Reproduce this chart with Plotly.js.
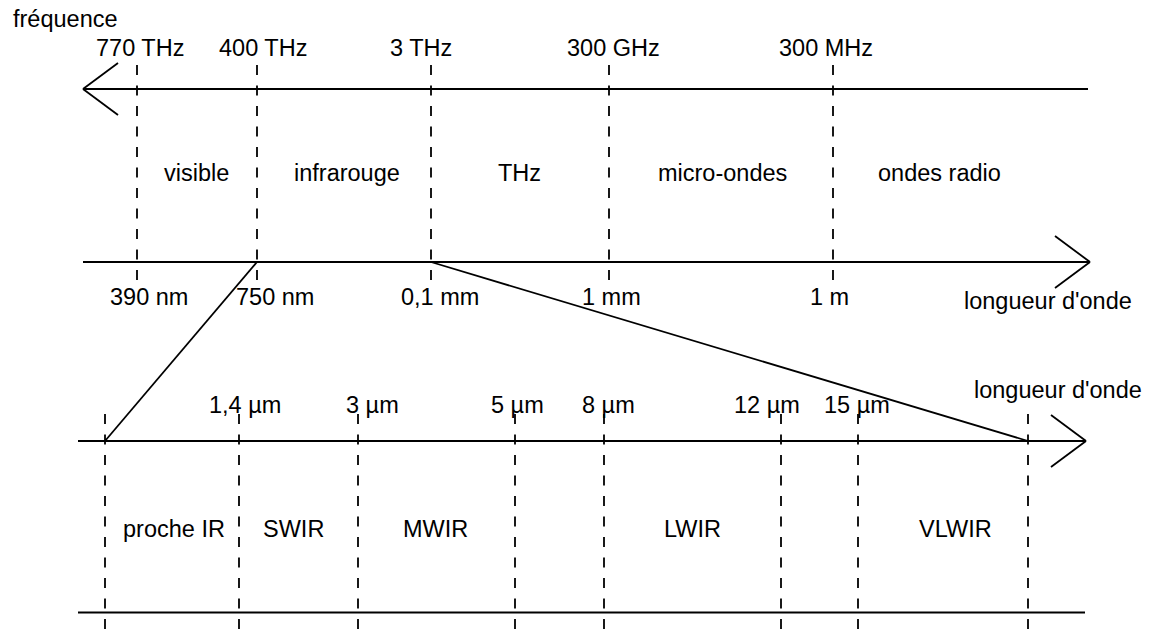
<!DOCTYPE html>
<html>
<head>
<meta charset="utf-8">
<script src="https://cdn.plot.ly/plotly-3.0.1.min.js"></script>
<style>html,body{margin:0;padding:0;background:#fff;}#chart{width:1156px;height:634px;}</style>
</head>
<body>
<div id="chart"></div>
<script>
// ---- data (diagram positions in pixel units of the 1156x634 canvas) ----
var freqLabels = ['770 THz', '400 THz', '3 THz', '300 GHz', '300 MHz'];
var freqLabelX = [140, 263, 421, 613, 826];
var topBoundaryX = [137, 257, 431, 609, 833];

var bandNames = ['visible', 'infrarouge', 'THz', 'micro-ondes', 'ondes radio'];
var bandLabelX = [196, 347, 519, 722, 939];

var waveLabels = ['390 nm', '750 nm', '0,1 mm', '1 mm', '1 m'];
var waveLabelX = [149, 275, 440, 611, 829];

var irBoundaryX = [105, 239, 358, 515, 604, 781, 858, 1028];
var irTickLabels = ['1,4 µm', '3 µm', '5 µm', '8 µm', '12 µm', '15 µm'];
var irTickLabelX = [245, 372, 517, 608, 767, 857];

var irBands = ['proche IR', 'SWIR', 'MWIR', 'LWIR', 'VLWIR'];
var irBandX = [174, 293, 435, 692, 955];

// axis rows (y) and extents
var yFreq = 89, yWave = 262, yIR = 441, yIRbase = 612.5;
var topDashY = [65, 281], irDashY = [414, 640];
var rowY = {freqLab: 48, freqTitle: 19, band: 173, waveLab: 297, waveTitle: 301,
            irLab: 405, irTitle: 390, irBand: 529};

var FONT = {family: '"Liberation Sans", Arial, sans-serif', size: 23.5, color: '#000'};

// ---- build traces ----
function seg(xs, ys, x0, y0, x1, y1) { xs.push(x0, x1, null); ys.push(y0, y1, null); }

var sx = [], sy = [];
// main arrows
seg(sx, sy, 83, yFreq, 1088, yFreq);
seg(sx, sy, 83, yFreq, 118, yFreq - 26);
seg(sx, sy, 83, yFreq, 118, yFreq + 26);
seg(sx, sy, 83, yWave, 1090, yWave);
seg(sx, sy, 1090, yWave, 1055, yWave - 26);
seg(sx, sy, 1090, yWave, 1055, yWave + 26);
seg(sx, sy, 78, yIR, 1086, yIR);
seg(sx, sy, 1086, yIR, 1051, yIR - 26);
seg(sx, sy, 1086, yIR, 1051, yIR + 26);
seg(sx, sy, 78, yIRbase, 1085, yIRbase);
// zoom lines from the infrared band down to the IR detail axis
seg(sx, sy, topBoundaryX[1], yWave, irBoundaryX[0], yIR);
seg(sx, sy, topBoundaryX[2], yWave, irBoundaryX[irBoundaryX.length - 1], yIR);

var traces = [{
  type: 'scatter', mode: 'lines', x: sx, y: sy, hoverinfo: 'skip',
  line: {color: '#000', width: 1.8}, connectgaps: false
}];

topBoundaryX.forEach(function (x) {
  traces.push({type: 'scatter', mode: 'lines', x: [x, x], y: topDashY, hoverinfo: 'skip',
    line: {color: '#000', width: 1.8, dash: '10px,10.5px'}});
});
irBoundaryX.forEach(function (x) {
  traces.push({type: 'scatter', mode: 'lines', x: [x, x], y: irDashY, hoverinfo: 'skip',
    line: {color: '#000', width: 1.8, dash: '10px,10.5px'}});
});

// ---- text ----
var ann = [];
function txt(t, x, y) {
  ann.push({text: t, x: x, y: y, xref: 'x', yref: 'y', showarrow: false,
            xanchor: 'center', yanchor: 'middle', font: FONT});
}
txt('fréquence', 65, rowY.freqTitle);
freqLabels.forEach(function (t, i) { txt(t, freqLabelX[i], rowY.freqLab); });
bandNames.forEach(function (t, i) { txt(t, bandLabelX[i], rowY.band); });
waveLabels.forEach(function (t, i) { txt(t, waveLabelX[i], rowY.waveLab); });
txt("longueur d'onde", 1048, rowY.waveTitle);
irTickLabels.forEach(function (t, i) { txt(t, irTickLabelX[i], rowY.irLab); });
txt("longueur d'onde", 1058, rowY.irTitle);
irBands.forEach(function (t, i) { txt(t, irBandX[i], rowY.irBand); });

var layout = {
  width: 1156, height: 634,
  margin: {l: 0, r: 0, t: 0, b: 0},
  paper_bgcolor: '#fff', plot_bgcolor: '#fff',
  showlegend: false,
  xaxis: {range: [0, 1156], visible: false, fixedrange: true},
  yaxis: {range: [634, 0], visible: false, fixedrange: true},
  annotations: ann,
  font: FONT
};

Plotly.newPlot('chart', traces, layout, {staticPlot: true, displayModeBar: false});
</script>
</body>
</html>
